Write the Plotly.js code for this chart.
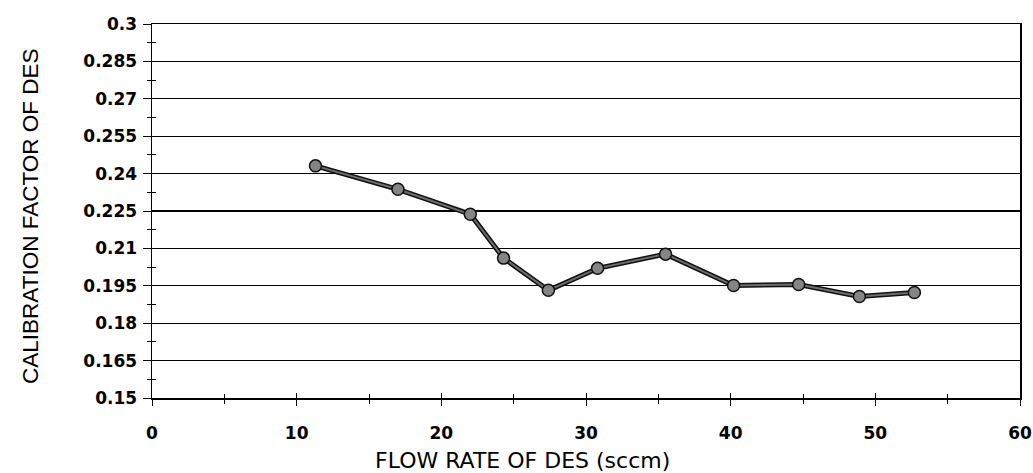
<!DOCTYPE html>
<html>
<head>
<meta charset="utf-8">
<script src="https://cdn.plot.ly/plotly-3.0.1.min.js"></script>
<style>html,body{margin:0;padding:0;background:#fff;}#chart{width:1033px;height:473px;}</style>
</head>
<body>
<div id="chart"></div>
<script>
const flowRate = [11.3, 17.0, 22.0, 24.3, 27.4, 30.8, 35.5, 40.2, 44.7, 48.9, 52.7];
const calibFactor = [0.2431, 0.2337, 0.2237, 0.2061, 0.1932, 0.2020, 0.2077, 0.1951, 0.1955, 0.1907, 0.1923];
const yTickVals = [0.15, 0.165, 0.18, 0.195, 0.21, 0.225, 0.24, 0.255, 0.27, 0.285, 0.3];
const yTickText = ['0.15', '0.165', '0.18', '0.195', '0.21', '0.225', '0.24', '0.255', '0.27', '0.285', '0.3'];
const xTickVals = [0, 10, 20, 30, 40, 50, 60];
const xTitle = 'FLOW RATE OF DES (sccm)';
const yTitle = 'CALIBRATION FACTOR OF DES';

const traces = [
  {x: flowRate, y: calibFactor, mode: 'lines', line: {color: '#111', width: 5}, hoverinfo: 'skip', showlegend: false},
  {x: flowRate, y: calibFactor, mode: 'lines+markers', line: {color: '#6e6e6e', width: 2},
   marker: {symbol: 'circle', size: 12, color: '#858585', line: {color: '#111', width: 1.5}}, showlegend: false},
  {x: [0, 60], y: [0.15, 0.3], xaxis: 'x2', yaxis: 'y2', mode: 'markers', marker: {opacity: 0}, hoverinfo: 'skip', showlegend: false}
];

const tickFont = {family: 'DejaVu Sans, sans-serif', size: 17, color: '#000', weight: 'bold'};
const layout = {
  width: 1033, height: 473,
  margin: {l: 152, r: 13, t: 24, b: 75},
  paper_bgcolor: '#fff', plot_bgcolor: '#fff',
  font: {family: 'DejaVu Sans, sans-serif', color: '#000'},
  showlegend: false,
  xaxis: {
    range: [0, 60], tickvals: xTickVals, ticktext: xTickVals.map(String),
    showgrid: false, zeroline: false,
    showline: true, linecolor: '#000', linewidth: 1.5, mirror: true,
    ticks: 'outside', ticklen: 6, tickcolor: '#000', tickwidth: 1,
    minor: {dtick: 5, ticks: 'outside', ticklen: 4, tickcolor: '#000', showgrid: false},
    ticklabelstandoff: 13,
    tickfont: tickFont
  },
  yaxis: {
    range: [0.15, 0.3], tickvals: yTickVals, ticktext: yTickText,
    showgrid: true, gridcolor: '#000', gridwidth: 1.3, zeroline: false,
    showline: true, linecolor: '#000', linewidth: 1.5, mirror: true,
    ticks: 'outside', ticklen: 8, tickcolor: '#000', tickwidth: 1,
    minor: {dtick: 0.0075, tick0: 0.15, ticks: 'outside', ticklen: 4, tickcolor: '#000', showgrid: false},
    ticklabelstandoff: 2,
    tickfont: tickFont
  },
  xaxis2: {
    overlaying: 'x', anchor: 'y2', range: [0, 60], tickvals: xTickVals, showticklabels: false,
    showgrid: false, zeroline: false, showline: false,
    ticks: 'inside', ticklen: 5, tickcolor: '#000', tickwidth: 1,
    minor: {dtick: 5, ticks: 'inside', ticklen: 4, tickcolor: '#000', showgrid: false}
  },
  yaxis2: {
    overlaying: 'y', anchor: 'x2', range: [0.15, 0.3], tickvals: yTickVals, showticklabels: false,
    showgrid: false, zeroline: false, showline: false,
    ticks: 'inside', ticklen: 3, tickcolor: '#000', tickwidth: 1,
    minor: {dtick: 0.0075, tick0: 0.15, ticks: 'inside', ticklen: 4, tickcolor: '#000', showgrid: false}
  },
  annotations: [
    {text: xTitle, xref: 'paper', yref: 'paper', x: 0.4274, y: -0.1658, xanchor: 'center', yanchor: 'middle',
     showarrow: false, font: {family: 'DejaVu Sans, sans-serif', size: 22, color: '#000'}},
    {text: yTitle, xref: 'paper', yref: 'paper', x: -0.1406, y: 0.4866, xanchor: 'center', yanchor: 'middle',
     textangle: -90, showarrow: false, font: {family: 'Liberation Sans, Arial, sans-serif', size: 22.5, color: '#000'}}
  ]
};

Plotly.newPlot('chart', traces, layout, {staticPlot: true, displayModeBar: false});
</script>
</body>
</html>
